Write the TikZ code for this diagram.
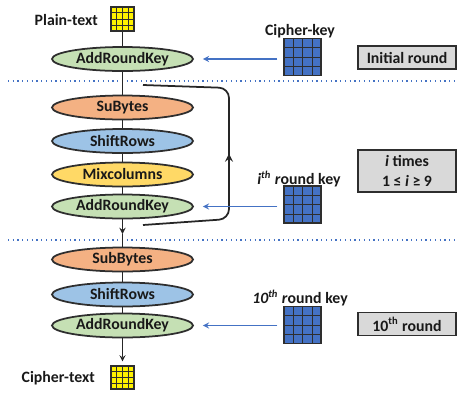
\documentclass[tikz,border=0pt]{standalone}
\usepackage{fontspec}
\setmainfont{Carlito}
\usetikzlibrary{shapes.geometric}
\usetikzlibrary{arrows}
\usetikzlibrary{calc}
\usetikzlibrary{decorations.markings}

\definecolor{arkgreen}{HTML}{C5E0B4}
\definecolor{sborange}{HTML}{F4B183}
\definecolor{srblue}{HTML}{9DC3E6}
\definecolor{mcyellow}{HTML}{FFD966}
\definecolor{keyblue}{HTML}{4472C4}
\definecolor{boxgrey}{HTML}{D9D9D9}
\definecolor{edgegrey}{HTML}{2E2E2E}

% inner lines of a 4x4 state block
\newcommand{\cellgrid}[1]{%
  \foreach \k in {1,2,3} {
    \draw[edgegrey,line width=0.5pt] ($(#1.north west)!\k/4!(#1.north east)$) -- ($(#1.south west)!\k/4!(#1.south east)$);
    \draw[edgegrey,line width=0.5pt] ($(#1.north west)!\k/4!(#1.south west)$) -- ($(#1.north east)!\k/4!(#1.south east)$);
  }}

\begin{document}
\begin{tikzpicture}[x=0.02cm,y=-0.02cm,
  every node/.style={font=\fontsize{9}{11}\selectfont\bfseries,text=black!90},
  stepell/.style={ellipse,draw=edgegrey,line width=1pt,minimum width=2.82cm,minimum height=0.48cm,inner sep=0pt},
  cellbox/.style={rectangle,draw=edgegrey,line width=0.6pt,inner sep=0pt},
  roundbox/.style={rectangle,draw=edgegrey,fill=boxgrey,line width=1pt,minimum width=1.96cm,inner sep=1pt},
  keyarrow/.style={-stealth,draw=keyblue,line width=0.6pt,shorten <=0.12cm,shorten >=0.18cm},
  mainline/.style={draw=black!85,line width=0.6pt},
  sepline/.style={draw=keyblue,dotted,line width=0.7pt}]
  \useasboundingbox (0,0) rectangle (474,400);

  % initial round
  \node[cellbox,fill=yellow,minimum width=0.46cm,minimum height=0.48cm] (plain) at (122.5,19) {};
  \node[anchor=east] (plainlbl) at (104,20) {Plain-text};
  \node[stepell,fill=arkgreen] (ark1) at (122.5,59) {AddRoundKey};
  \node[cellbox,fill=keyblue,minimum size=0.74cm] (ckey) at (302.5,57) {};
  \node (ckeylbl) at (300,31) {Cipher-key};
  \node[roundbox,minimum height=0.46cm] (initbox) at (407,57.5) {Initial round};
  \draw[sepline] (8,81) -- (455,81);

  % rounds 1..9
  \node[stepell,fill=sborange] (sb1) at (122.5,107.5) {SuBytes};
  \node[stepell,fill=srblue] (sr1) at (122.5,141) {ShiftRows};
  \node[stepell,fill=mcyellow] (mc) at (122.5,174.5) {Mixcolumns};
  \node[stepell,fill=arkgreen] (ark2) at (122.5,206.5) {AddRoundKey};
  \node[cellbox,fill=keyblue,minimum size=0.74cm] (ikey) at (302.5,204.5) {};
  \node (ikeylbl) at (299,179) {\textit{i\textsuperscript{th} r}ound key};
  \node[roundbox,minimum height=0.84cm,align=center] (timesbox) at (407,171) {\textit{i} times\\1 ≤ \textit{i} ≥ 9};
  \coordinate (loopin) at (143,225);
  \coordinate (loopout) at (143,85);
  \coordinate (midarrow) at (122.5,234);
  \draw[sepline] (8,240) -- (455,240);

  % final round
  \node[stepell,fill=sborange] (sb2) at (122.5,259.5) {SubBytes};
  \node[stepell,fill=srblue] (sr2) at (122.5,294.5) {ShiftRows};
  \node[stepell,fill=arkgreen] (ark3) at (122.5,325.5) {AddRoundKey};
  \node[cellbox,fill=keyblue,minimum size=0.74cm] (tkey) at (302.5,325) {};
  \node (tkeylbl) at (300,298) {\textit{10\textsuperscript{th} r}ound key};
  \node[roundbox,minimum height=0.46cm] (tenthbox) at (407,324) {10\textsuperscript{th} round};
  \node[cellbox,fill=yellow,minimum width=0.46cm,minimum height=0.46cm] (cipher) at (122.5,377.5) {};
  \node[anchor=east] (cipherlbl) at (101,378) {Cipher-text};

  \cellgrid{plain}
  \cellgrid{ckey}
  \cellgrid{ikey}
  \cellgrid{tkey}
  \cellgrid{cipher}

  \draw[mainline] (plain) -- (ark1) -- (sb1) -- (sr1) -- (mc) -- (ark2);
  \draw[mainline,-stealth] (ark2) -- (midarrow);
  \draw[mainline] (midarrow) -- (sb2) -- (sr2) -- (ark3);
  \draw[mainline,-stealth,shorten >=0.08cm] (ark3) -- (cipher);
  \draw[mainline,line width=1pt,rounded corners=0.2cm,
    decoration={markings,mark=at position 0.5 with {\arrow{stealth}}},postaction={decorate}]
    (loopin) -- (229,219) -- (229,88) -- (loopout);

  \draw[keyarrow] (ckey.west |- ark1) -- (ark1);
  \draw[keyarrow] (ikey.west |- ark2) -- (ark2);
  \draw[keyarrow] (tkey.west |- ark3) -- (ark3);
\end{tikzpicture}
\end{document}
